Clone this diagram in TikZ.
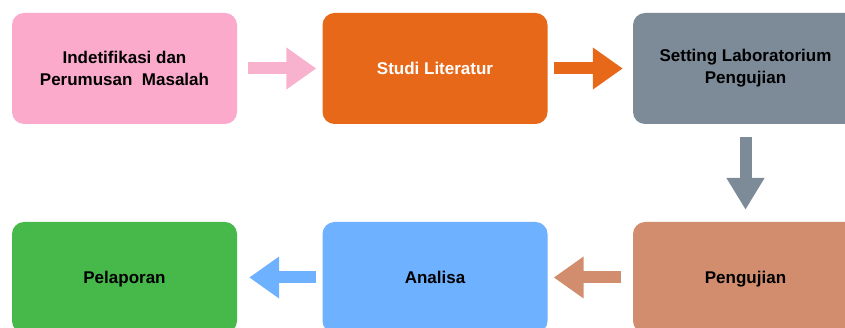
\documentclass[tikz,border=0pt]{standalone}
\usepackage{fontspec}
\setmainfont{Liberation Sans}
\usetikzlibrary{arrows.meta}
\definecolor{pinkbox}{HTML}{FBAACB}
\definecolor{pinkarrow}{HTML}{F9B2CE}
\definecolor{orangebox}{HTML}{E8681A}
\definecolor{greybox}{HTML}{7D8B99}
\definecolor{brownbox}{HTML}{D18D6E}
\definecolor{bluebox}{HTML}{6EB1FF}
\definecolor{greenbox}{HTML}{46B94A}
\begin{document}
\begin{tikzpicture}[x=1pt,y=1pt,
  stage/.style={rounded corners=12pt, minimum width=225pt, minimum height=111pt, inner sep=0pt, align=center, font=\fontsize{17}{22}\selectfont\bfseries},
  flow/.style={line width=12pt, -{Triangle[length=30pt,width=40pt]}}]
\useasboundingbox (0,0) rectangle (845,328);
\clip (0,0) rectangle (845,328);

\node[stage, fill=pinkbox] (ident) at (124.5,259.5) {Indetifikasi dan\\Perumusan~ Masalah};
\node[stage, fill=orangebox, text=white] (studi) at (435,259.5) {Studi Literatur};
\node[stage, fill=greybox] (setting) at (745.5,259.5) {Setting Laboratorium\\Pengujian};
\node[stage, fill=brownbox, text depth=0pt] (uji) at (745.5,50.5) {Pengujian};
\node[stage, fill=bluebox, text depth=0pt] (analisa) at (435,50.5) {Analisa};
\node[stage, fill=greenbox, text depth=0pt] (lapor) at (124.5,50.5) {Pelaporan};

\draw[flow, pinkarrow, shorten <=11pt, shorten >=6pt] (ident) -- (studi);
\draw[flow, orangebox, shorten <=6pt, shorten >=10pt] (studi) -- (setting);
\draw[flow, greybox, -{Triangle[length=32pt,width=36pt]}, shorten <=13pt, shorten >=12pt] (setting) -- (uji);
\draw[flow, brownbox, shorten <=12pt, shorten >=6pt] (uji) -- (analisa);
\draw[flow, bluebox, shorten <=6pt, shorten >=12pt] (analisa) -- (lapor);
\end{tikzpicture}
\end{document}
